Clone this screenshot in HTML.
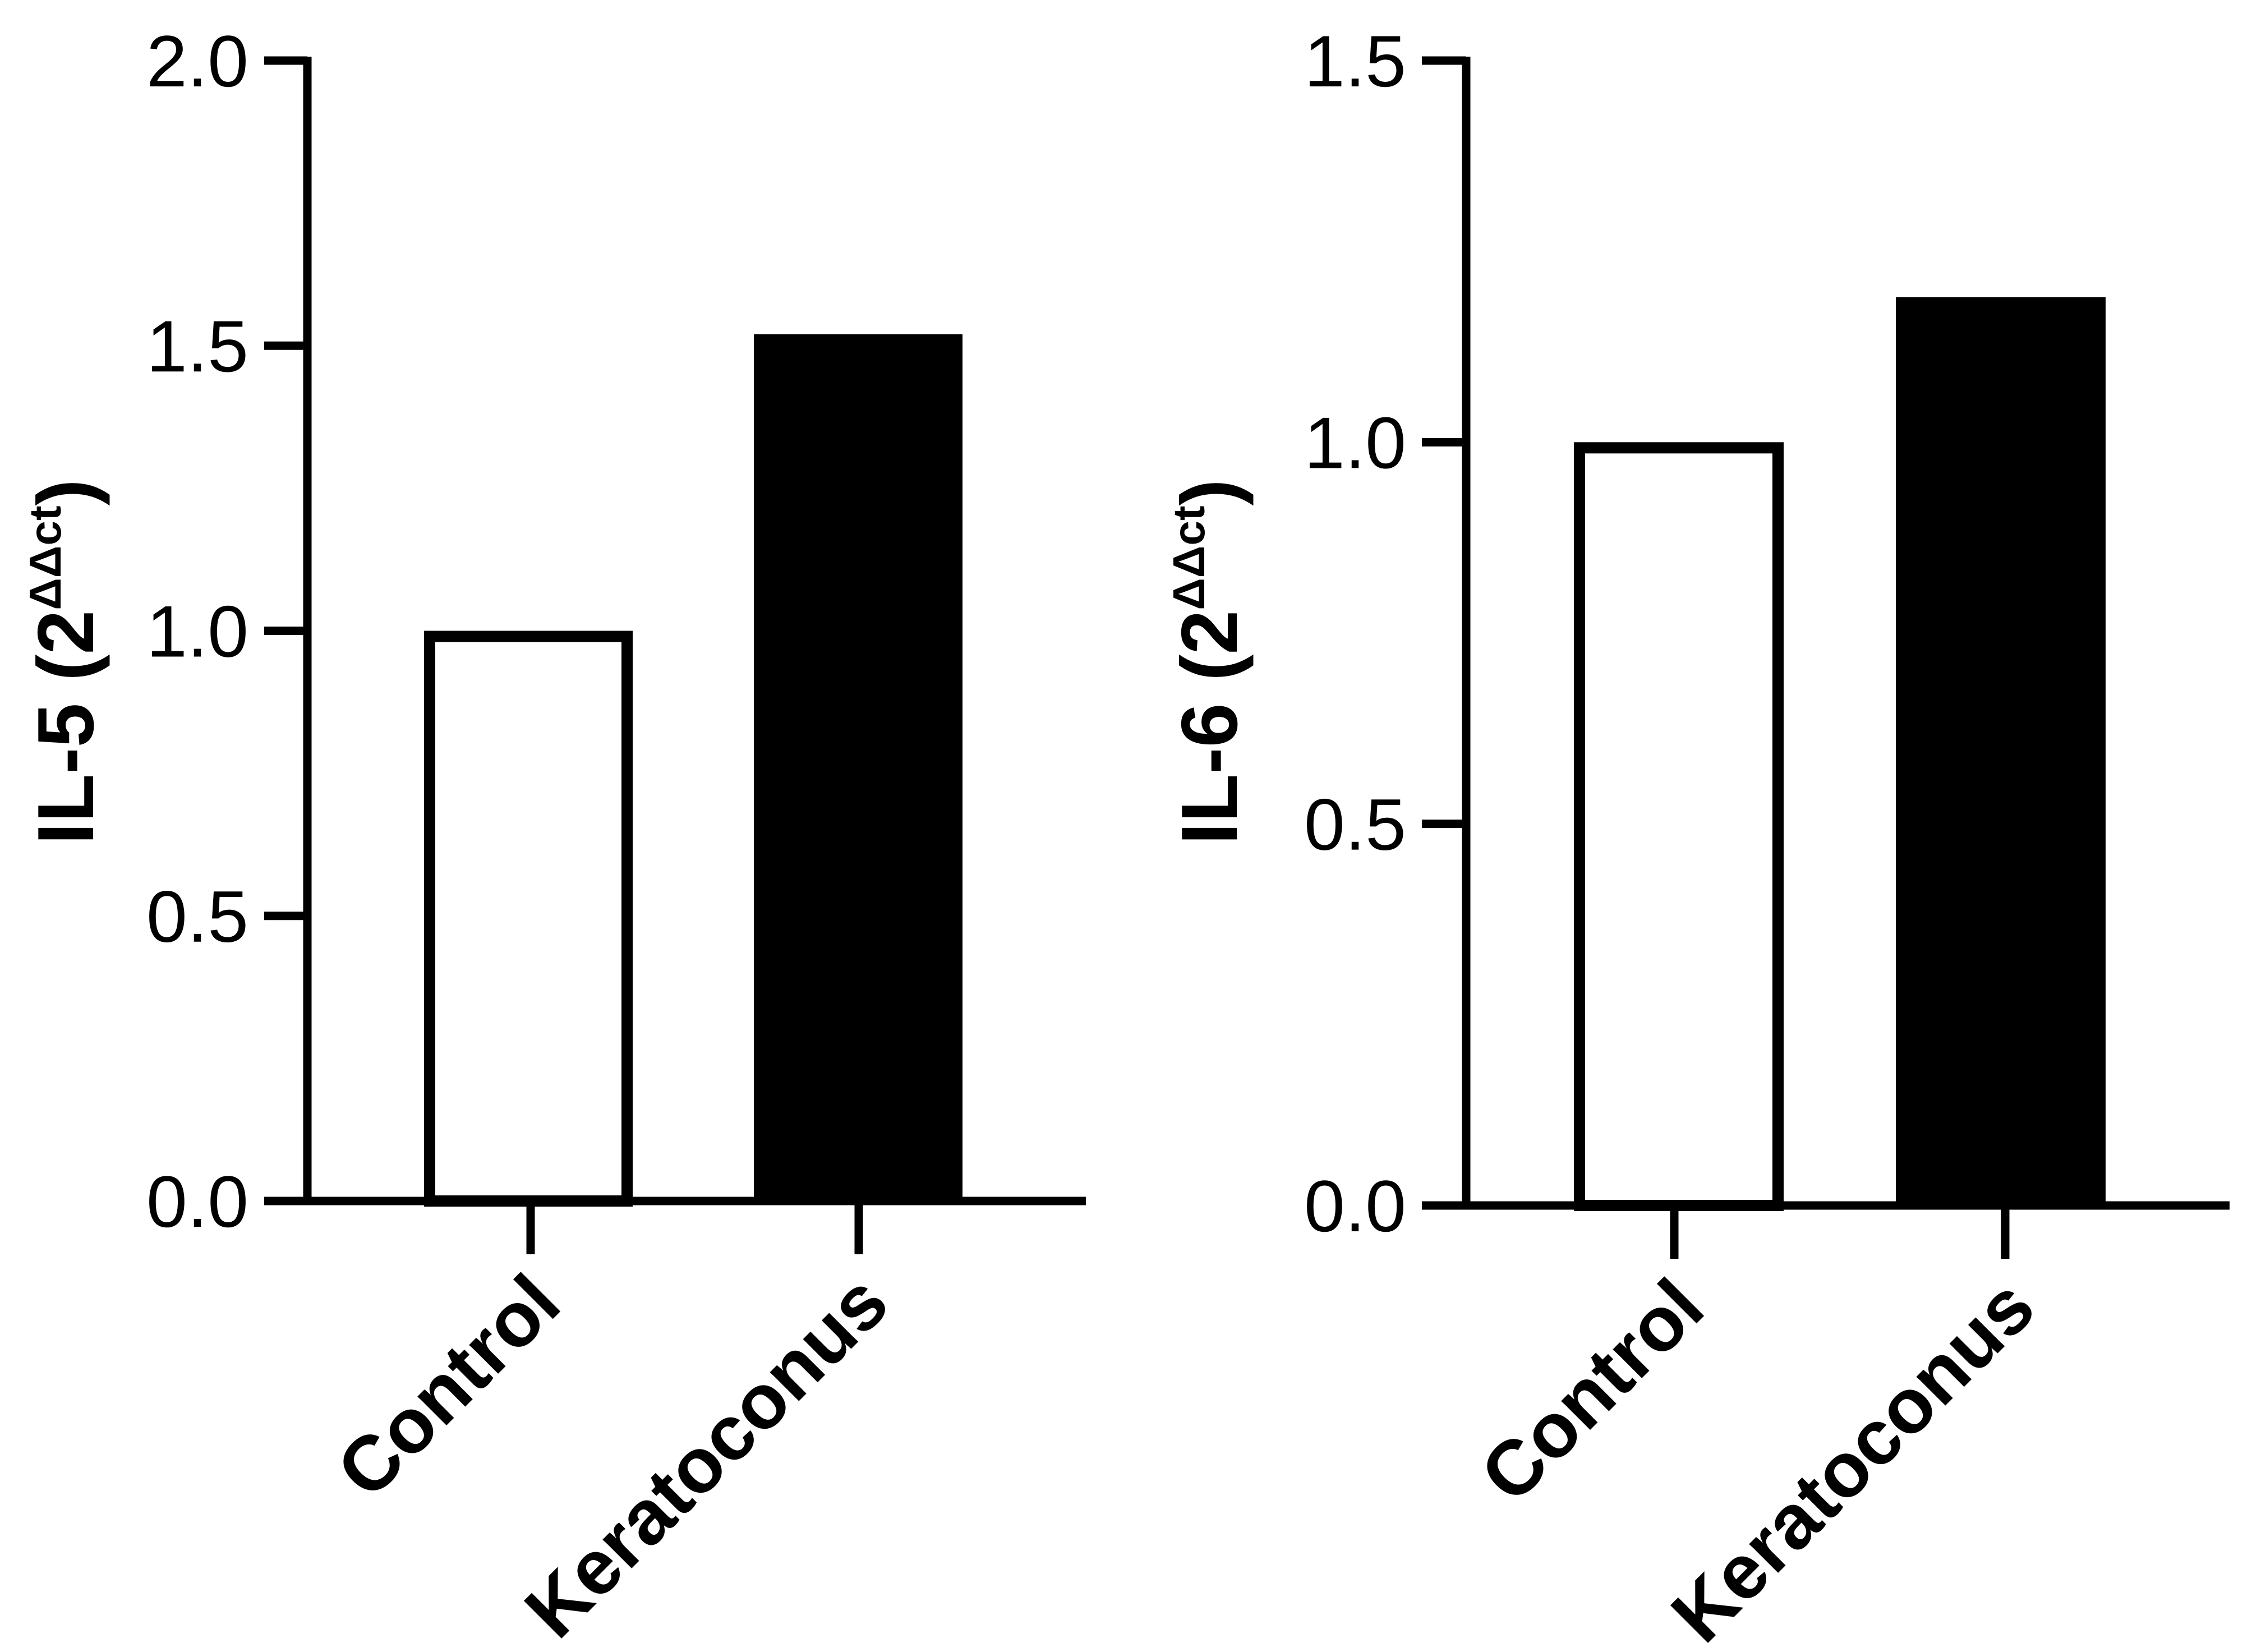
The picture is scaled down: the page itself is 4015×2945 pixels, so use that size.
<!DOCTYPE html>
<html><head><meta charset="utf-8"><style>
html,body{margin:0;padding:0;background:#fff;}
svg{display:block;}
text{font-family:"Liberation Sans",Arial,sans-serif;fill:#000;}
</style></head><body>
<svg id="chart" width="4015" height="2945" viewBox="0 0 4015 2945" xmlns="http://www.w3.org/2000/svg"></svg>
<script>
const categories = ["Control", "Keratoconus"];
const il5Values = [1.0, 1.52];
const il6Values = [1.0, 1.19];
const il5Ticks = ["0.0", "0.5", "1.0", "1.5", "2.0"];
const il6Ticks = ["0.0", "0.5", "1.0", "1.5"];
const il5Max = 2.0;
const il6Max = 1.5;

const NS = "http://www.w3.org/2000/svg";
const svg = document.getElementById("chart");
function mk(tag, attrs, parent) {
  const e = document.createElementNS(NS, tag);
  for (const k in attrs) e.setAttribute(k, attrs[k]);
  (parent || svg).appendChild(e);
  return e;
}

function panel(cfg) {
  const g = mk("g", {});
  
  
  const yScale = v => cfg.y0 - (v / cfg.max) * (cfg.y0 - cfg.yTop);
  cfg.values.forEach((v, i) => {
    const x0 = cfg.barX[i], w = cfg.barW;
    const filled = i === 1;
    const sw = 20;
    const r = mk("rect", filled ? {
      x: x0, y: yScale(v), width: w, height: cfg.y0 - yScale(v), fill: "#000"
    } : {
      x: x0 + sw / 2, y: yScale(v) + sw / 2, width: w - sw, height: cfg.y0 - yScale(v) - sw / 2,
      fill: "#fff", stroke: "#000", "stroke-width": sw
    }, g);
    
    
  });
  const ya = mk("line", { x1: cfg.axisX, y1: cfg.yTop - 7, x2: cfg.axisX, y2: cfg.y0 + 7, stroke: "#000", "stroke-width": 15 }, g);
  
  
  const xa = mk("line", { x1: cfg.tickX0, y1: cfg.y0, x2: cfg.xEnd, y2: cfg.y0, stroke: "#000", "stroke-width": 15 }, g);
  
  
  cfg.ticks.forEach(t => {
    const y = yScale(parseFloat(t));
    const tl = mk("line", { x1: cfg.tickX0, y1: y, x2: cfg.axisX, y2: y, stroke: "#000", "stroke-width": 15 }, g);
    
    
    const tx = mk("text", { x: cfg.tickX0 - 28, y: y + 46, "text-anchor": "end", "font-size": 130, "textLength": 182, "lengthAdjust": "spacingAndGlyphs" }, g);
    tx.textContent = t;
    
    
  });
  cfg.catX.forEach((cx, i) => {
    const tk = mk("line", { x1: cx, y1: cfg.y0, x2: cx, y2: cfg.y0 + 95, stroke: "#000", "stroke-width": 15 }, g);
    
    
    const lx = cx + 60, ly = cfg.y0 + 190;
    const lb = mk("text", { x: lx, y: ly, "text-anchor": "end", "font-size": 138, "font-weight": "bold", transform: `rotate(-45 ${lx} ${ly})` }, g);
    lb.textContent = categories[i];
    
    
  });
  const tx = cfg.titleX, ty = cfg.titleY;
  const tt = mk("text", { x: tx, y: ty, "text-anchor": "middle", "font-size": 142, "font-weight": "bold", transform: `rotate(-90 ${tx} ${ty})` }, g);
  
  
  const s1 = mk("tspan", {}, tt); s1.textContent = cfg.label + " (2";
  const s2 = mk("tspan", { "font-size": 80, dy: -58 }, tt); s2.textContent = "\u0394\u0394ct";
  const s3 = mk("tspan", { dy: 58 }, tt); s3.textContent = ")";
}

panel({ name: "il5-panel", label: "IL-5", values: il5Values, ticks: il5Ticks, max: il5Max,
  axisX: 548, yTop: 108, y0: 2141, tickX0: 471, xEnd: 1936,
  barX: [756, 1344], barW: 372, catX: [946, 1531], titleX: 166, titleY: 1180 });
panel({ name: "il6-panel", label: "IL-6", values: il6Values, ticks: il6Ticks, max: il6Max,
  axisX: 2614, yTop: 108, y0: 2149, tickX0: 2535, xEnd: 3975,
  barX: [2806, 3380], barW: 374, catX: [2985, 3575], titleX: 2205, titleY: 1180 });
</script>
</body></html>
